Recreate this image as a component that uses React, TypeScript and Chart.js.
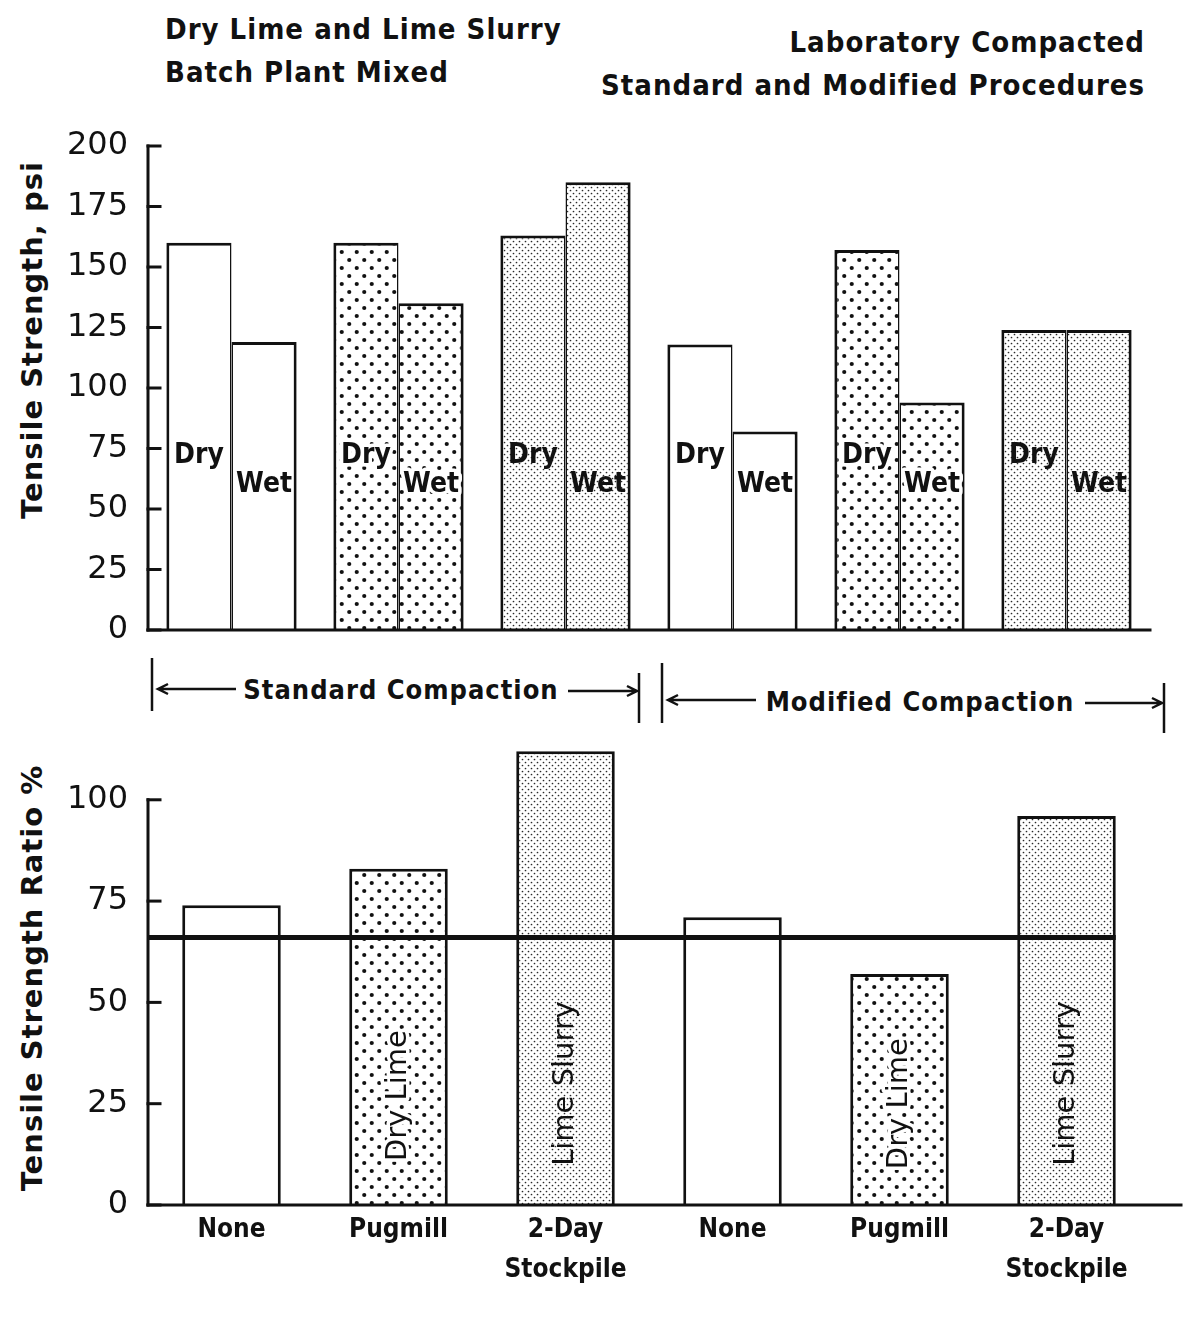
import React, { useEffect, useRef } from "react";
import { Chart, registerables } from "chart.js";

Chart.register(...registerables);

// ---------------- data ----------------
const CATEGORIES = ["None", "Pugmill", "2-Day Stockpile", "None", "Pugmill", "2-Day Stockpile"];
const CATEGORY_TICK_LABELS = [["None"], ["Pugmill"], ["2-Day", "Stockpile"], ["None"], ["Pugmill"], ["2-Day", "Stockpile"]];
const LIME_TREATMENT = ["none", "dry", "slurry", "none", "dry", "slurry"];
const DRY_STRENGTH_PSI = [160, 160, 163, 118, 157, 124];
const WET_STRENGTH_PSI = [119, 135, 185, 82, 94, 124];
const STRENGTH_TICKS = [0, 25, 50, 75, 100, 125, 150, 175, 200];
const STRENGTH_BAR_TEXT = ["Dry", "Wet"];
const TSR_PERCENT = [74, 83, 112, 71, 57, 96];
const TSR_TICKS = [0, 25, 50, 75, 100];
const TSR_BAR_TEXT = ["", "Dry Lime", "Lime Slurry", "", "Dry Lime", "Lime Slurry"];
const TSR_MINIMUM = 66;
const TITLE_LEFT = ["Dry Lime and Lime Slurry", "Batch Plant Mixed"];
const TITLE_RIGHT = ["Laboratory Compacted", "Standard and Modified Procedures"];
const COMPACTION_GROUPS = ["Standard Compaction", "Modified Compaction"];
const Y_TITLES = ["Tensile Strength, psi", "Tensile Strength Ratio %"];

// ---------------- styling helpers ----------------
const INK = "#111111";
const FONT = "'DejaVu Sans', sans-serif";
const COND = "'DejaVu Sans Condensed', 'DejaVu Sans', sans-serif";

function makeFill(kind: string): any {
  if (kind === "none") return "#ffffff";
  const c = document.createElement("canvas");
  const ctx = c.getContext("2d") as CanvasRenderingContext2D;
  if (kind === "dry") {
    c.width = 15;
    c.height = 16;
    ctx.fillStyle = "#ffffff";
    ctx.fillRect(0, 0, 15, 16);
    ctx.fillStyle = INK;
    ctx.beginPath();
    ctx.arc(3.75, 4, 2.1, 0, Math.PI * 2);
    ctx.arc(11.25, 12, 2.1, 0, Math.PI * 2);
    ctx.fill();
  } else {
    c.width = 6;
    c.height = 6;
    ctx.fillStyle = "#ffffff";
    ctx.fillRect(0, 0, 6, 6);
    ctx.fillStyle = "#2a2a2a";
    ctx.beginPath();
    ctx.arc(1.5, 1.5, 0.85, 0, Math.PI * 2);
    ctx.arc(4.5, 4.5, 0.85, 0, Math.PI * 2);
    ctx.fill();
  }
  return ctx.createPattern(c, "repeat");
}

function drawFrame(chart: any, axisMax: number, ticks: number[], axisRight: number) {
  const { ctx, chartArea } = chart;
  const ys = chart.scales.y;
  const left = chartArea.left;
  const y0 = ys.getPixelForValue(0);
  ctx.save();
  ctx.strokeStyle = INK;
  ctx.lineCap = "square";
  ctx.lineWidth = 3;
  ctx.beginPath();
  ctx.moveTo(left, ys.getPixelForValue(axisMax));
  ctx.lineTo(left, y0);
  ctx.stroke();
  for (const v of ticks) {
    const py = ys.getPixelForValue(v);
    ctx.beginPath();
    ctx.moveTo(left, py);
    ctx.lineTo(left + 12, py);
    ctx.stroke();
  }
  ctx.beginPath();
  ctx.moveTo(left, y0);
  ctx.lineTo(axisRight, y0);
  ctx.stroke();
  ctx.restore();
}

function haloText(ctx: CanvasRenderingContext2D, text: string, x: number, y: number, halo: boolean) {
  if (halo) {
    ctx.save();
    ctx.strokeStyle = "#ffffff";
    ctx.lineWidth = 7;
    ctx.lineJoin = "round";
    ctx.strokeText(text, x, y);
    ctx.restore();
  }
  ctx.fillText(text, x, y);
}

const topPlugin = {
  id: "topFrame",
  afterDatasetsDraw(chart: any) {
    drawFrame(chart, 200, STRENGTH_TICKS, chart.chartArea.right);
    const ctx = chart.ctx as CanvasRenderingContext2D;
    const ys = chart.scales.y;
    const textValues = [72, 60];
    ctx.save();
    ctx.fillStyle = INK;
    ctx.font = `bold 28px ${COND}`;
    ctx.textAlign = "center";
    ctx.textBaseline = "middle";
    for (let d = 0; d < 2; d++) {
      const meta = chart.getDatasetMeta(d);
      meta.data.forEach((bar: any, i: number) => {
        haloText(ctx, STRENGTH_BAR_TEXT[d], bar.x, ys.getPixelForValue(textValues[d]), LIME_TREATMENT[i] === "dry");
      });
    }
    ctx.restore();
  },
};

const bottomPlugin = {
  id: "bottomFrame",
  afterDatasetsDraw(chart: any) {
    const ctx = chart.ctx as CanvasRenderingContext2D;
    const ys = chart.scales.y;
    const meta = chart.getDatasetMeta(0);
    const textCenters = [0, 27, 30, 0, 25, 30];
    ctx.save();
    ctx.fillStyle = INK;
    ctx.font = `29px ${FONT}`;
    ctx.textAlign = "center";
    ctx.textBaseline = "middle";
    meta.data.forEach((bar: any, i: number) => {
      const t = TSR_BAR_TEXT[i];
      if (!t) return;
      ctx.save();
      ctx.translate(bar.x, ys.getPixelForValue(textCenters[i]));
      ctx.rotate(-Math.PI / 2);
      haloText(ctx, t, 0, 0, LIME_TREATMENT[i] === "dry");
      ctx.restore();
    });
    ctx.restore();
    // minimum ratio line
    const last = meta.data[meta.data.length - 1];
    const py = ys.getPixelForValue(TSR_MINIMUM);
    ctx.save();
    ctx.strokeStyle = INK;
    ctx.lineWidth = 5;
    ctx.beginPath();
    ctx.moveTo(chart.chartArea.left, py);
    ctx.lineTo(last.x + last.width / 2, py);
    ctx.stroke();
    ctx.restore();
    drawFrame(chart, 100, TSR_TICKS, chart.width - 2);
  },
};

const W = 1175;
const PLOT_LEFT = 140;
const PLOT_RIGHT_PAD = 33;

const yTickOptions = { padding: 0, color: INK, font: { family: FONT, size: 32 } };
const yGridOptions = { display: false, drawTicks: true, tickLength: 20 };

function TopChart() {
  const ref = useRef<HTMLCanvasElement>(null);
  useEffect(() => {
    const fills = LIME_TREATMENT.map(makeFill);
    const chart = new Chart(ref.current as HTMLCanvasElement, {
      type: "bar",
      data: {
        labels: CATEGORIES,
        datasets: [
          {
            label: "Dry",
            data: DRY_STRENGTH_PSI,
            backgroundColor: fills,
            borderColor: INK,
            borderWidth: { top: 3, left: 3, right: 1.5, bottom: 0 },
            borderSkipped: false,
            categoryPercentage: 0.78,
            barPercentage: 1,
          },
          {
            label: "Wet",
            data: WET_STRENGTH_PSI,
            backgroundColor: fills,
            borderColor: INK,
            borderWidth: { top: 3, left: 1.5, right: 3, bottom: 0 },
            borderSkipped: false,
            categoryPercentage: 0.78,
            barPercentage: 1,
          },
        ],
      },
      options: {
        animation: false,
        responsive: false,
        layout: { padding: { top: 26, right: PLOT_RIGHT_PAD, left: 0, bottom: 0 } },
        plugins: { legend: { display: false }, tooltip: { enabled: false } },
        scales: {
          x: {
            grid: { display: false, drawTicks: false },
            border: { display: false },
            ticks: { display: false },
            afterFit: (s: any) => {
              s.height = 20;
            },
          },
          y: {
            min: 0,
            max: 200,
            afterBuildTicks: (s: any) => {
              s.ticks = STRENGTH_TICKS.map((v) => ({ value: v }));
            },
            ticks: yTickOptions,
            grid: yGridOptions,
            border: { display: false },
            afterFit: (s: any) => {
              s.width = PLOT_LEFT;
            },
          },
        },
      },
      plugins: [topPlugin],
    } as any);
    return () => chart.destroy();
  }, []);
  return <canvas ref={ref} width={W} height={530} style={{ position: "absolute", left: 0, top: 112, display: "block" }} />;
}

function BottomChart() {
  const ref = useRef<HTMLCanvasElement>(null);
  useEffect(() => {
    const fills = LIME_TREATMENT.map(makeFill);
    const chart = new Chart(ref.current as HTMLCanvasElement, {
      type: "bar",
      data: {
        labels: CATEGORY_TICK_LABELS,
        datasets: [
          {
            label: "Tensile Strength Ratio",
            data: TSR_PERCENT,
            backgroundColor: fills,
            borderColor: INK,
            borderWidth: 3,
            borderSkipped: "bottom",
            categoryPercentage: 1,
            barPercentage: 0.59,
          },
        ],
      },
      options: {
        animation: false,
        responsive: false,
        layout: { padding: { top: 20, right: PLOT_RIGHT_PAD, left: 0, bottom: 0 } },
        plugins: { legend: { display: false }, tooltip: { enabled: false } },
        scales: {
          x: {
            grid: { display: false, drawTicks: false },
            border: { display: false },
            ticks: {
              padding: 5,
              color: INK,
              maxRotation: 0,
              autoSkip: false,
              font: { family: COND, size: 26, weight: "bold", lineHeight: 1.55 },
            },
            afterFit: (s: any) => {
              s.height = 114;
            },
          },
          y: {
            min: 0,
            max: 115,
            afterBuildTicks: (s: any) => {
              s.ticks = TSR_TICKS.map((v) => ({ value: v }));
            },
            ticks: yTickOptions,
            grid: yGridOptions,
            border: { display: false },
            afterFit: (s: any) => {
              s.width = PLOT_LEFT;
            },
          },
        },
      },
      plugins: [bottomPlugin],
    } as any);
    return () => chart.destroy();
  }, []);
  return <canvas ref={ref} width={W} height={600} style={{ position: "absolute", left: 0, top: 711, display: "block" }} />;
}

const headStyle: React.CSSProperties = {
  position: "absolute",
  fontFamily: COND,
  fontWeight: "bold",
  fontSize: 29,
  letterSpacing: 1,
  color: INK,
  whiteSpace: "nowrap",
  lineHeight: "34px",
};

function YTitle({ text, cx, cy }: { text: string; cx: number; cy: number }) {
  return (
    <div
      style={{
        position: "absolute",
        left: cx,
        top: cy,
        transform: "translate(-50%, -50%) rotate(-90deg)",
        fontFamily: FONT,
        fontWeight: "bold",
        fontSize: 29,
        letterSpacing: 1,
        whiteSpace: "nowrap",
        color: INK,
      }}
    >
      {text}
    </div>
  );
}

function Brackets() {
  const arrowL = (x1: number, x2: number, y: number) => `M${x2},${y} L${x1},${y} M${x1 + 10},${y - 5} L${x1},${y} L${x1 + 10},${y + 5}`;
  const arrowR = (x1: number, x2: number, y: number) => `M${x1},${y} L${x2},${y} M${x2 - 10},${y - 5} L${x2},${y} L${x2 - 10},${y + 5}`;
  return (
    <>
      <svg width={W} height={80} style={{ position: "absolute", left: 0, top: 645 }}>
        <g stroke={INK} strokeWidth={2.5} fill="none">
          <path d={`M144,5 L144,58`} />
          <path d={arrowL(150, 228, 36)} />
          <path d={arrowR(560, 629, 38)} />
          <path d={`M631,20 L631,70`} />
          <path d={`M654,10 L654,70`} />
          <path d={arrowL(660, 748, 47)} />
          <path d={arrowR(1077, 1154, 50)} />
          <path d={`M1156,30 L1156,80`} />
        </g>
      </svg>
      <div style={{ ...headStyle, fontSize: 27, left: 393, top: 682 - 17, transform: "translateX(-50%)" }}>{COMPACTION_GROUPS[0]}</div>
      <div style={{ ...headStyle, fontSize: 27, left: 912, top: 694 - 17, transform: "translateX(-50%)" }}>{COMPACTION_GROUPS[1]}</div>
    </>
  );
}

export default function App() {
  return (
    <div style={{ position: "relative", width: W, height: 1312, overflow: "hidden", background: "#fff" }}>
      <div style={{ ...headStyle, left: 157, top: 21 - 17 }}>{TITLE_LEFT[0]}</div>
      <div style={{ ...headStyle, left: 157, top: 64 - 17 }}>{TITLE_LEFT[1]}</div>
      <div style={{ ...headStyle, right: W - 1137, top: 34 - 17, textAlign: "right" }}>{TITLE_RIGHT[0]}</div>
      <div style={{ ...headStyle, right: W - 1137, top: 77 - 17, textAlign: "right" }}>{TITLE_RIGHT[1]}</div>
      <YTitle text={Y_TITLES[0]} cx={24} cy={332} />
      <YTitle text={Y_TITLES[1]} cx={24} cy={970} />
      <TopChart />
      <Brackets />
      <BottomChart />
    </div>
  );
}
